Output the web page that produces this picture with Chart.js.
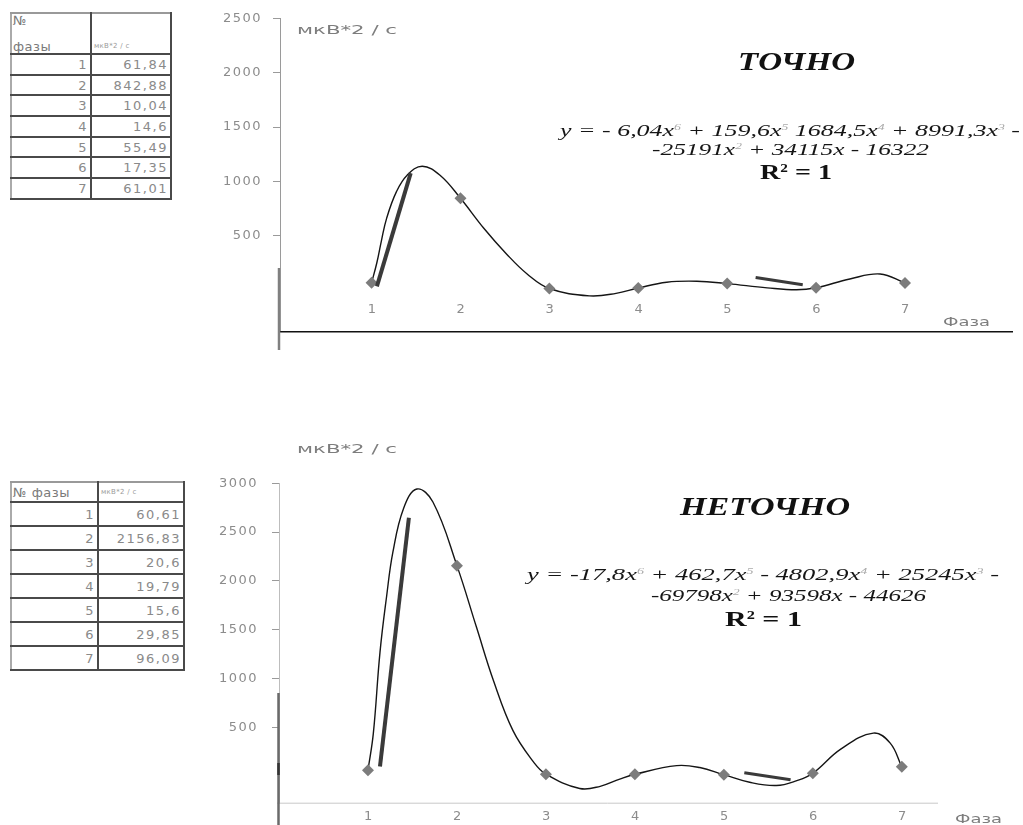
<!DOCTYPE html>
<html><head><meta charset="utf-8">
<script src="https://cdn.jsdelivr.net/npm/chart.js@4"></script>
<style>
html,body{margin:0;padding:0;background:#fff;width:1023px;height:825px;overflow:hidden;position:relative;font-family:"DejaVu Sans",sans-serif}
.abs{position:absolute;white-space:nowrap;line-height:1;transform-origin:0 50%}
table{position:absolute;border-collapse:collapse;table-layout:fixed;font-family:"DejaVu Sans",sans-serif;color:#8a8a8a}
td{padding:0 2px 0 0;text-align:right;font-size:13px;letter-spacing:1.5px;border:2px solid #4a4a4a;line-height:1;overflow:hidden;white-space:nowrap}
td.h{text-align:left;vertical-align:top;color:#7a7a7a;letter-spacing:0.5px;padding-left:1px}
td.u{font-size:7px;letter-spacing:0.3px;text-align:left;padding-left:2px;color:#999}
canvas{position:absolute}
.eq{font-family:"Liberation Serif",serif;font-style:italic;font-size:17px;color:#151515}
.eq sup{font-size:9px;color:#aaa;vertical-align:6px;line-height:0}
.ttl{font-family:"Liberation Serif",serif;font-style:italic;font-weight:bold;font-size:25px;color:#111}
.r2{font-family:"Liberation Serif",serif;font-weight:bold;font-size:22px;color:#111}
.r2 sup{font-size:12px;vertical-align:7px;line-height:0}
.ax{font-family:"DejaVu Sans",sans-serif;font-size:13px;color:#7d7d7d}
</style></head><body>
<table id="t1" style="left:10px;top:12px;width:160px"></table>
<table id="t2" style="left:10px;top:481px;width:173px"></table>
<canvas id="c1" width="823" height="360" style="left:200px;top:0px"></canvas>
<canvas id="c2" width="823" height="395" style="left:200px;top:430px"></canvas>
<script>
// ---- data ----
const phases = [1, 2, 3, 4, 5, 6, 7];
const phaseLabels = ['1', '2', '3', '4', '5', '6', '7'];
const valuesExact = [61.84, 842.88, 10.04, 14.6, 55.49, 17.35, 61.01];
const valuesInexact = [60.61, 2156.83, 20.6, 19.79, 15.6, 29.85, 96.09];
const yTicksExact = [500, 1000, 1500, 2000, 2500];
const yTicksInexact = [500, 1000, 1500, 2000, 2500, 3000];
// trendline
const trendExactX = [1.0, 1.06, 1.11, 1.17, 1.28, 1.40, 1.57, 1.77, 2.0, 2.26, 2.52, 2.75, 3.0, 3.45, 3.75, 4.0, 4.32, 4.66, 5.0, 5.45, 5.78, 6.0, 6.38, 6.72, 7.0];
const trendExactY = [62, 250, 448, 660, 904, 1056, 1139, 1056, 843, 569, 327, 144, 10, -58, -35, 15, 68, 77, 55, 16, -2, 17, 98, 144, 61];
const trendInexactX = [1.0, 1.06, 1.135, 1.21, 1.28, 1.40, 1.55, 1.73, 2.0, 2.22, 2.41, 2.63, 2.86, 3.0, 3.38, 3.61, 3.83, 4.0, 4.47, 4.73, 5.0, 5.29, 5.59, 5.82, 6.0, 6.31, 6.68, 6.87, 7.0];
const trendInexactY = [61, 436, 1269, 1846, 2294, 2743, 2942, 2808, 2157, 1525, 981, 467, 147, 21, -125, -103, -29, 20, 109, 89, 16, -62, -95, -45, 30, 275, 442, 339, 96];
// hand-drawn strokes
const strokeExactX = [1.06, 1.44];
const strokeExactY = [30, 1075];
const stroke2ExactX = [5.32, 5.85];
const stroke2ExactY = [112, 45];
const strokeInexactX = [1.135, 1.46];
const strokeInexactY = [99, 2647];
const stroke2InexactX = [5.23, 5.75];
const stroke2InexactY = [35, -36];
const unitLabel = 'мкВ*2 / с';
const axisXTitle = 'Фаза';

// ---- tables ----
function fmt(v){ return String(v).replace('.', ','); }
function buildTable(id, header, c1, c2, hh, rh, single){
  const t = document.getElementById(id);
  let h = '<colgroup><col style="width:'+c1+'px"><col style="width:'+c2+'px"></colgroup>';
  h += '<tr style="height:'+hh+'px"><td class="h" style="border-left-color:#aaa;border-top-color:#999;'+(single?'vertical-align:middle':'')+'">'+header+'</td><td class="u" style="border-top-color:#999;vertical-align:'+(single?'middle':'bottom')+';padding-bottom:'+(single?0:3)+'px">'+unitLabel+'</td></tr>';
  const vals = id === 't1' ? valuesExact : valuesInexact;
  phases.forEach((p, i) => {
    h += '<tr style="height:'+rh+'px"><td style="border-left-color:#aaa">'+phaseLabels[i]+'</td><td>'+fmt(vals[i])+'</td></tr>';
  });
  t.innerHTML = h;
}
buildTable('t1', '№<br><br>фазы', 80, 80, 40, 20.7, false);
buildTable('t2', '№ фазы', 87, 86, 20, 24, true);

// ---- charts ----
function pts(xs, ys){ return xs.map((x, i) => ({x: x, y: ys[i]})); }

function decorPlugin(p){
  return {
    id: 'decor',
    beforeDraw(chart){ chart.ctx.letterSpacing = '1.5px'; },
    afterDraw(chart){
      const ctx = chart.ctx, a = chart.chartArea, xs = chart.scales.x;
      ctx.save();
      ctx.letterSpacing = '0px';
      ctx.strokeStyle = p.xAxisColor; ctx.lineWidth = p.xAxisWidth;
      ctx.beginPath(); ctx.moveTo(a.left - 2, a.bottom); ctx.lineTo(p.xAxisEnd, a.bottom); ctx.stroke();
      p.ySegs.forEach(s => {
        ctx.strokeStyle = s.c; ctx.lineWidth = s.w;
        ctx.beginPath(); ctx.moveTo(a.left + s.dx, s.y0); ctx.lineTo(a.left + s.dx, s.y1); ctx.stroke();
      });
      ctx.letterSpacing = '1.5px';
      ctx.font = '13px "DejaVu Sans"'; ctx.fillStyle = '#8c8c8c';
      ctx.textAlign = 'center'; ctx.textBaseline = 'middle';
      phases.forEach((v, i) => ctx.fillText(phaseLabels[i], xs.getPixelForValue(v) + 1, p.labelY));
      ctx.restore();
      ctx.letterSpacing = '0px';
    }
  };
}

function makeChart(id, o){
  return new Chart(document.getElementById(id), {
    type: 'scatter',
    data: {
      datasets: [
        {data: pts(phases, o.values), pointStyle: 'rectRot', pointRadius: 6, pointBackgroundColor: '#7c7c7c', pointBorderWidth: 0, showLine: false, order: 1},
        {data: pts(o.trendX, o.trendY), showLine: true, borderColor: '#151515', borderWidth: 1.4, pointRadius: 0, tension: 0.4, order: 2},
        {data: pts(o.sX, o.sY), showLine: true, borderColor: '#3a3a3a', borderWidth: 4, pointRadius: 0, order: 0},
        {data: pts(o.s2X, o.s2Y), showLine: true, borderColor: '#3a3a3a', borderWidth: 3, pointRadius: 0, order: 0}
      ]
    },
    options: {
      responsive: false, animation: false, devicePixelRatio: 1,
      layout: {padding: o.pad},
      plugins: {legend: {display: false}, tooltip: {enabled: false}},
      scales: {
        x: {type: 'linear', display: false, min: o.xMin, max: o.xMax},
        y: {
          type: 'linear', min: o.yMin, max: o.yMax,
          afterBuildTicks: ax => { ax.ticks = o.yTicks.map(v => ({value: v})); },
          afterFit: sc => { sc.width = o.yWidth; },
          ticks: {font: {family: 'DejaVu Sans', size: 13}, color: '#8c8c8c', padding: o.tickPad, autoSkip: false, callback: v => String(v)},
          grid: {drawOnChartArea: false, drawTicks: true, tickLength: 7, color: '#9a9a9a', lineWidth: 1},
          border: {display: true, color: o.yBorder, width: 1}
        }
      }
    },
    plugins: [decorPlugin(o.decor)]
  });
}

makeChart('c1', {
  values: valuesExact, trendX: trendExactX, trendY: trendExactY,
  sX: strokeExactX, sY: strokeExactY, s2X: stroke2ExactX, s2Y: stroke2ExactY,
  xMin: -0.03, xMax: 8.215, yMin: -389, yMax: 2500, yTicks: yTicksExact,
  yWidth: 80, tickPad: 11, yBorder: '#9a9a9a',
  pad: {top: 15, bottom: 28.3, left: 0, right: 10},
  decor: {xAxisColor: '#111', xAxisWidth: 1.6, xAxisEnd: 813, labelY: 310,
    ySegs: [{dx: -1, y0: 268, y1: 350, c: '#808080', w: 2.5}]}
});
makeChart('c2', {
  values: valuesInexact, trendX: trendInexactX, trendY: trendInexactY,
  sX: strokeInexactX, sY: strokeInexactY, s2X: stroke2InexactX, s2Y: stroke2InexactY,
  xMin: 0, xMax: 8.25, yMin: -276, yMax: 3000, yTicks: yTicksInexact,
  yWidth: 79, tickPad: 14, yBorder: '#bdbdbd',
  pad: {top: 53.3, bottom: 1, left: 0, right: 10},
  decor: {xAxisColor: '#c8c8c8', xAxisWidth: 1, xAxisEnd: 738, labelY: 387,
    ySegs: [{dx: -0.5, y0: 263, y1: 395, c: '#6a6a6a', w: 2.5}, {dx: -0.5, y0: 333, y1: 345, c: '#333', w: 2.5}]}
});

// ---- text overlays ----
function addText(html, cls, left, cy, width){
  const d = document.createElement('div');
  d.className = 'abs ' + cls; d.innerHTML = html;
  document.body.appendChild(d);
  const w = d.getBoundingClientRect().width;
  d.style.left = left + 'px';
  d.style.top = (cy - d.offsetHeight / 2) + 'px';
  d.style.transform = 'scaleX(' + (width / w) + ')';
}
addText(unitLabel, 'ax', 297, 29, 100);
addText(unitLabel, 'ax', 297, 448, 100);
addText(axisXTitle, 'ax', 943, 321, 47);
addText(axisXTitle, 'ax', 955, 818, 47);

addText('ТОЧНО', 'ttl', 738, 61, 117);
addText('y = - 6,04x<sup>6</sup> + 159,6x<sup>5</sup> 1684,5x<sup>4</sup> + 8991,3x<sup>3</sup> -', 'eq', 560, 130, 460);
addText('-25191x<sup>2</sup> + 34115x - 16322', 'eq', 652, 149, 277);
addText('R<sup>2</sup> = 1', 'r2', 760, 172, 72);

addText('НЕТОЧНО', 'ttl', 680, 506, 170);
addText('y = -17,8x<sup>6</sup> + 462,7x<sup>5</sup> - 4802,9x<sup>4</sup> + 25245x<sup>3</sup> -', 'eq', 527, 574, 472);
addText('-69798x<sup>2</sup> + 93598x - 44626', 'eq', 651, 595, 275);
addText('R<sup>2</sup> = 1', 'r2', 725, 619, 77);
</script>
</body></html>
